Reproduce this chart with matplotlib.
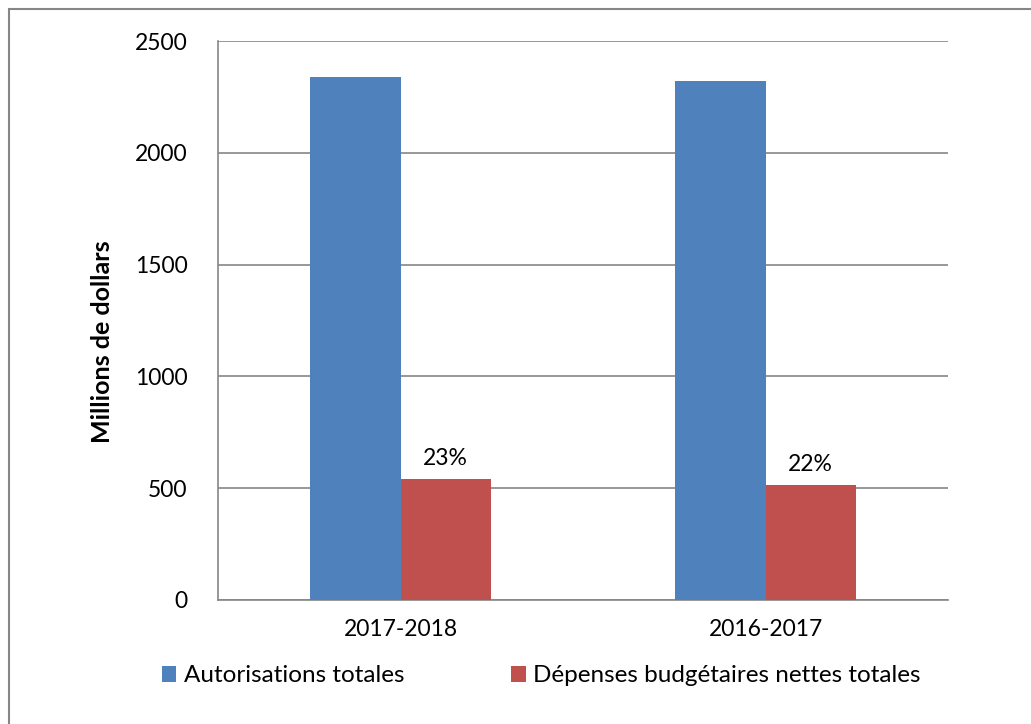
import matplotlib.pyplot as plt
import numpy as np
from matplotlib.patches import Rectangle

plt.rcParams['font.family'] = ['Lato', 'DejaVu Sans']

years = ["2017-2018", "2016-2017"]
autorisations = [2339, 2321]
depenses = [541, 514]
pct_labels = ["23%", "22%"]

fig = plt.figure(figsize=(10.31, 7.24), dpi=100)
ax = fig.add_axes([218 / 1031, 1 - 600 / 724, 730 / 1031, 559 / 724])

x = np.arange(len(years))
w = 0.247
b1 = ax.bar(x - w / 2, autorisations, w, color="#4f81bd", label="Autorisations totales", zorder=3)
b2 = ax.bar(x + w / 2, depenses, w, color="#c0504d", label="Dépenses budgétaires nettes totales", zorder=3)

for rect, lab in zip(b2, pct_labels):
    ax.text(rect.get_x() + rect.get_width() / 2, rect.get_height() + 45, lab,
            ha="center", va="bottom", fontsize=16.5)

ax.set_xlim(-0.5, 1.5)
ax.set_ylim(0, 2500)
ax.set_yticks(range(0, 2501, 500))
ax.set_xticks(x)
ax.set_xticklabels(years)
ax.tick_params(axis="both", length=0, labelsize=16.5)
ax.tick_params(axis="y", pad=22)
ax.tick_params(axis="x", pad=14)
ax.yaxis.grid(True, color="#868686", linewidth=1.2, zorder=0)
for s in ["top", "right"]:
    ax.spines[s].set_visible(False)
for s in ["left", "bottom"]:
    ax.spines[s].set_color("#868686")
    ax.spines[s].set_linewidth(1.2)

fig.text(103 / 1031, 1 - 342 / 724, "Millions de dollars", rotation=90,
         ha="center", va="center", fontsize=18, fontweight="bold")

leg = fig.legend(loc="center", bbox_to_anchor=(541 / 1031, 1 - 676 / 724), ncol=2,
                 frameon=False, fontsize=17.5, handlelength=0.6, handleheight=0.6,
                 handletextpad=0.3, columnspacing=4.4)

fig.patches.append(Rectangle((9 / 1031, -0.1), 1.2, 1 - 9 / 724 + 0.1,
                             transform=fig.transFigure, fill=False,
                             edgecolor="#868686", linewidth=1.5))

fig.savefig("out.png", dpi=100)
